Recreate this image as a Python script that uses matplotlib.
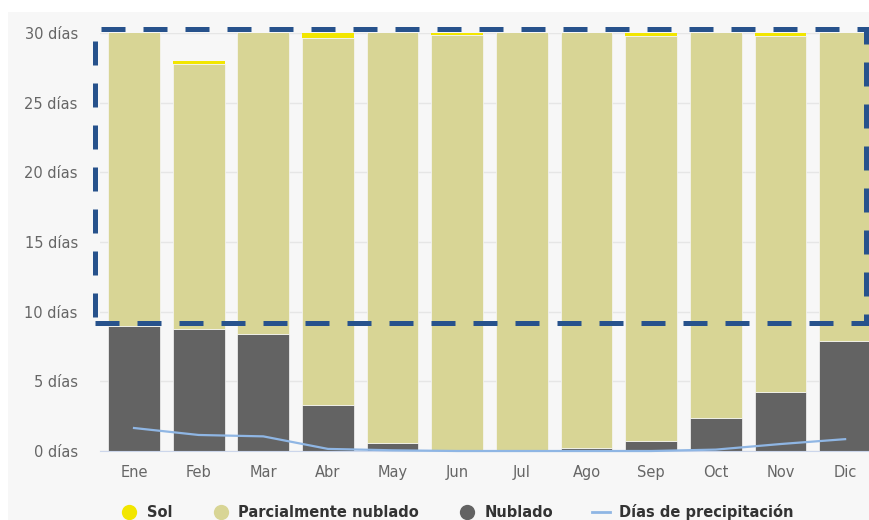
import matplotlib.pyplot as plt
import numpy as np
from matplotlib.patches import Rectangle
from matplotlib.lines import Line2D

# datos (días por mes)
meses = ['Ene', 'Feb', 'Mar', 'Abr', 'May', 'Jun', 'Jul', 'Ago', 'Sep', 'Oct', 'Nov', 'Dic']
nublado = [9.0, 8.75, 8.4, 3.3, 0.55, 0.05, 0.05, 0.2, 0.7, 2.4, 4.2, 7.9]
parcial = [22.0, 19.0, 22.6, 26.35, 30.45, 29.8, 30.95, 30.8, 29.1, 28.6, 25.6, 23.1]
sol = [0.0, 0.25, 0.0, 0.35, 0.0, 0.15, 0.0, 0.0, 0.2, 0.0, 0.2, 0.0]
precipitacion = [1.65, 1.15, 1.05, 0.15, 0.05, 0.0, 0.0, 0.0, 0.0, 0.1, 0.5, 0.85]
yticks = [0, 5, 10, 15, 20, 25, 30]

c_sol = '#f2e600'
c_parcial = '#d8d595'
c_nublado = '#636363'
c_precip = '#8fb6e4'
fondo = '#f7f7f7'

W, H = 870, 520
fig = plt.figure(figsize=(W / 100, H / 100), dpi=100)
fig.patch.set_facecolor('white')
fig.patches.append(Rectangle((8 / W, 0), 1, (H - 12) / H, transform=fig.transFigure,
                             facecolor=fondo, edgecolor='none', zorder=-10))

ax = fig.add_axes([100 / W, (H - 451) / H, 770 / W, (451 - 33) / H])
ax.set_facecolor(fondo)

x = np.arange(len(meses))
nub = np.array(nublado)
par = np.array(parcial)
ax.bar(x, nub, width=0.8, color=c_nublado, edgecolor='#f7f7f7', linewidth=0.5, zorder=2)
ax.bar(x, par, bottom=nub, width=0.8, color=c_parcial, edgecolor='#f7f7f7', linewidth=0.5, zorder=2)
ax.bar(x, sol, bottom=nub + par, width=0.8, color=c_sol, edgecolor='none', zorder=2)
ax.plot(x, precipitacion, color=c_precip, lw=1.6, zorder=3, clip_on=False)

ax.set_xlim(-0.526, 11.385)
ax.set_ylim(0, 30)
ax.set_yticks(yticks)
ax.set_yticklabels([f'{v} días' for v in yticks])
ax.set_xticks(x)
ax.set_xticklabels(meses)
ax.tick_params(axis='both', length=0, colors='#666666', labelsize=10.5)
ax.tick_params(axis='y', pad=16)
ax.tick_params(axis='x', pad=10)
ax.grid(axis='y', color='#e6e6e6', lw=1, zorder=0)
for s in ['top', 'right', 'left']:
    ax.spines[s].set_visible(False)
ax.spines['bottom'].set_color('#ccd6eb')

# recuadro discontinuo
rect = Rectangle((-0.6, 9.2), 11.92, 21.1, fill=False, edgecolor='#27528c', lw=3.6,
                 linestyle=(0, (4.8, 3.6)), clip_on=False, zorder=5)
ax.add_patch(rect)

handles = [
    Line2D([], [], marker='o', color='none', markerfacecolor=c_sol, markeredgecolor='none', markersize=11),
    Line2D([], [], marker='o', color='none', markerfacecolor=c_parcial, markeredgecolor='none', markersize=11),
    Line2D([], [], marker='o', color='none', markerfacecolor=c_nublado, markeredgecolor='none', markersize=11),
    Line2D([], [], color=c_precip, lw=2),
]
labels = ['Sol', 'Parcialmente nublado', 'Nublado', 'Días de precipitación']
leg = fig.legend(handles, labels, loc='center', bbox_to_anchor=(457 / W, (H - 512) / H), ncol=4,
                 frameon=False, handlelength=1.2, handletextpad=0.6, columnspacing=2.7,
                 prop={'weight': 'bold', 'size': 10.5})
for t in leg.get_texts():
    t.set_color('#333333')

fig.savefig('out.png', dpi=100)
